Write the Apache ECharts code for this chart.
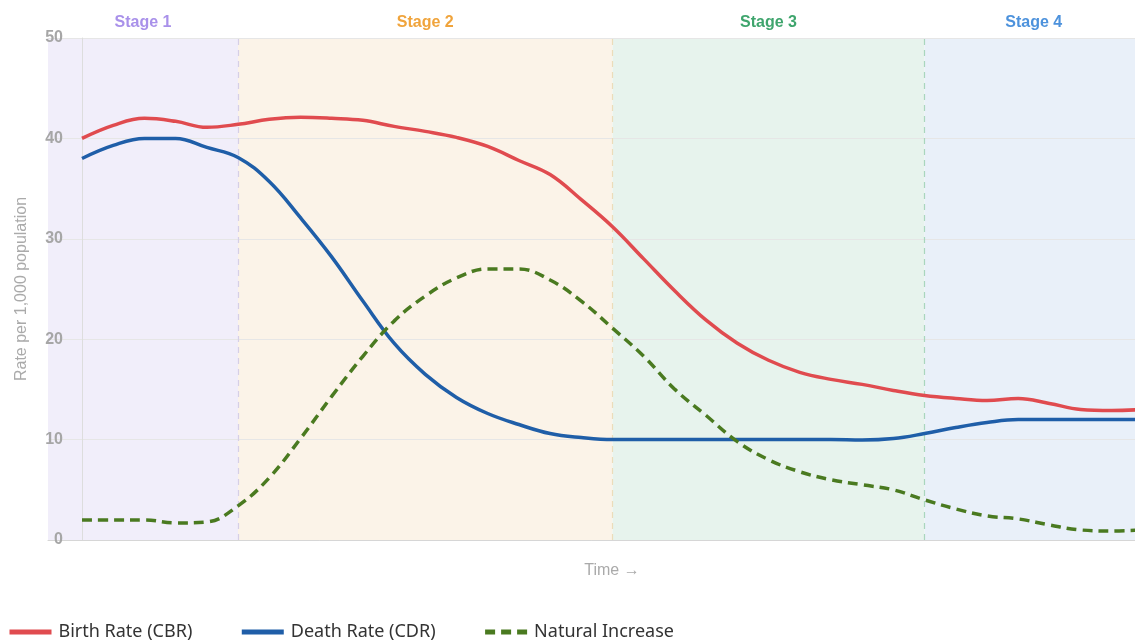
<!DOCTYPE html>
<html><head><meta charset="utf-8">
<script src="https://cdn.jsdelivr.net/npm/echarts@6/dist/echarts.min.js"></script>
<style>html,body{margin:0;padding:0;background:#fff}#c{width:1135px;height:641px}</style>
</head><body><div id="c"></div>
<script>
// x positions (time steps)
const timeSteps = [0,1,2,3,4,5,6,7,8,9,10,11,12,13,14,15,16,17,18,19,20,21,22,23,24,25,26,27,28,29,30,31,32,33,34];
const birthRate = [40.0,41.3,42.0,41.7,41.1,41.4,41.9,42.1,42.0,41.8,41.2,40.7,40.1,39.2,37.8,36.4,33.9,31.2,28.0,24.8,21.9,19.6,17.9,16.7,16.0,15.5,14.9,14.4,14.1,13.9,14.1,13.6,13.0,12.9,13.0];
const deathRate = [38.0,39.3,40.0,40.0,39.1,38.1,35.7,32.1,28.2,23.8,19.6,16.5,14.2,12.6,11.5,10.6,10.2,10.0,10.0,10.0,10.0,10.0,10.0,10.0,10.0,9.95,10.1,10.6,11.2,11.7,12.0,12.0,12.0,12.0,12.0];
const naturalIncrease = [2.0,2.0,2.0,1.7,1.8,3.4,6.2,10.1,14.3,18.3,21.8,24.3,26.1,27.0,27.0,25.9,23.8,21.1,18.3,15.0,12.4,9.8,8.0,6.8,6.0,5.5,5.0,4.0,3.1,2.4,2.1,1.5,1.0,0.9,1.0];
const seriesNames = ['Birth Rate (CBR)','Death Rate (CDR)','Natural Increase'];
const stageNames = ['Stage 1','Stage 2','Stage 3','Stage 4'];
const stageBounds = [-1.09, 5, 17, 27, 34];
const yTicks = [0,10,20,30,40,50];

const stageFill = ['#f1eefa','#fbf3e8','#e7f3ed','#e9f0f9'];
const stageText = ['#a991ea','#f0a43c','#3fa56d','#4d92dc'];
const stageLine = ['#d6cfe6','#ecdcba','#a9d6bd'];

const pairs = arr => arr.map((v,i)=>[timeSteps[i], v]);

const chart = echarts.init(document.getElementById('c'), null, {renderer:'canvas'});
chart.setOption({
  animation:false,
  backgroundColor:'#fff',
  textStyle:{fontFamily:'Liberation Sans, Arial, sans-serif'},
  grid:{left:48, right:-8, top:38, bottom:101, containLabel:false, outerBoundsMode:'none'},
  xAxis:{
    type:'value', min:stageBounds[0], max:stageBounds[4], z:3,
    name:'Time →', nameLocation:'middle', nameGap:23,
    nameTextStyle:{color:'#aaaaaa', fontSize:16, padding:[0,0,0,33]},
    axisLine:{show:true, onZero:false, lineStyle:{color:'#d6d6d6', width:1}},
    axisTick:{show:false}, axisLabel:{show:false}, splitLine:{show:false}
  },
  yAxis:{
    type:'value', min:yTicks[0], max:yTicks[yTicks.length-1], interval:10,
    offset:-34, z:3,
    name:'Rate per 1,000 population', nameLocation:'middle', nameGap:52,
    nameTextStyle:{color:'#aaaaaa', fontSize:16},
    axisLine:{show:true, onZero:false, lineStyle:{color:'#dddddd', width:1}},
    axisTick:{show:false},
    axisLabel:{color:'#a6a6a6', fontSize:16, fontWeight:'bold', margin:19},
    splitLine:{show:true, lineStyle:{color:'#e6e6e6', width:1}}
  },
  legend:{
    data:seriesNames,
    left:2, top:618, itemGap:47, itemWidth:42, itemHeight:14,
    textStyle:{color:'#333', fontSize:18, fontFamily:'Noto Sans, sans-serif', padding:[0,0,0,2]},
    lineStyle:{width:5},
    itemStyle:{opacity:0}
  },
  series:[
    {
      name:'stages', type:'line', data:pairs(birthRate), symbol:'none', silent:true, z:1,
      lineStyle:{opacity:0}, tooltip:{show:false},
      markArea:{
        silent:true,
        data: stageNames.map((n,i)=>[
          {xAxis:stageBounds[i], name:n, itemStyle:{color:stageFill[i], opacity:1},
           label:{show:true, position:'top', distance:7, color:stageText[i], fontSize:16, fontWeight:'bold'}},
          {xAxis:stageBounds[i+1]}
        ])
      },
      markLine:{
        silent:true, symbol:'none', label:{show:false},
        data: stageBounds.slice(1,4).map((b,i)=>({xAxis:b, lineStyle:{color:stageLine[i], type:[6,5], width:1.2}}))
      }
    },
    {
      name:seriesNames[0], type:'line', data:pairs(birthRate), smooth:0.4, symbol:'none',
      lineStyle:{color:'#e04b4f', width:3.5}, itemStyle:{color:'#e04b4f'}, z:5
    },
    {
      name:seriesNames[1], type:'line', data:pairs(deathRate), smooth:0.4, symbol:'none',
      lineStyle:{color:'#1f5ea8', width:3.5}, itemStyle:{color:'#1f5ea8'}, z:5
    },
    {
      name:seriesNames[2], type:'line', data:pairs(naturalIncrease), smooth:0.4, symbol:'none',
      lineStyle:{color:'#4a7a20', width:3.5, type:[10,6]}, itemStyle:{color:'#4a7a20'}, z:5
    }
  ]
});
</script></body></html>
